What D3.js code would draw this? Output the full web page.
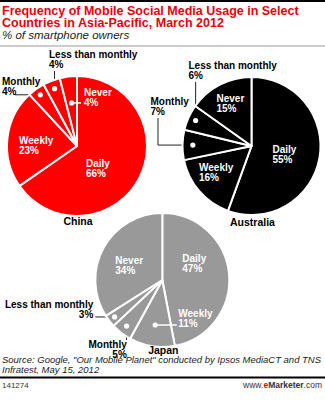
<!DOCTYPE html>
<html>
<head>
<meta charset="utf-8">
<script src="https://cdn.jsdelivr.net/npm/d3@7"></script>
<style>
  body { margin: 0; background: #fff; }
  svg { display: block; font-family: "Liberation Sans", Arial, sans-serif; }
</style>
</head>
<body>
<svg id="chart" width="325" height="401"></svg>
<script>
// data
const categories = ["Daily", "Weekly", "Monthly", "Less than monthly", "Never"];
const countries = ["China", "Australia", "Japan"];
const chinaValues = [66, 23, 4, 4, 4];
const australiaValues = [55, 16, 7, 6, 15];
const japanValues = [47, 11, 5, 3, 34];

// layout of each pie (offsets are relative to the pie centre)
const pies = [
  {
    name: countries[0], values: chinaValues, cx: 77, cy: 146, r: 70, fill: "#ff0000", nameDy: 79,
    labels: [
      { dx: 9, dy: 21 },
      { dx: -58, dy: -2 },
      { dx: -75, dy: -61, dot: 0.9, lead: "h", from: -62 },
      { dx: -28, dy: -88, dot: 0.88, lead: "v", from: -75 },
      { dx: 7, dy: -50, dot: 0.62, lead: "h", from: 4, inside: true }
    ]
  },
  {
    name: countries[1], values: australiaValues, cx: 251.5, cy: 146, r: 69, fill: "#000000", nameDy: 80,
    labels: [
      { dx: 21, dy: 7 },
      { dx: -52.5, dy: 25 },
      { dx: -101, dy: -41, dot: 0.85, lead: "vh", from: [-93.5, -28] },
      { dx: -63, dy: -77, dot: 0.89, lead: "v", from: -64 },
      { dx: -35, dy: -44 }
    ]
  },
  {
    name: countries[2], values: japanValues, cx: 162.3, cy: 280, r: 67, fill: "#999999", nameDy: 73.5,
    labels: [
      { dx: 20, dy: -18 },
      { dx: 16, dy: 37, dot: 0.68, lead: "h", from: 14.5, inside: true },
      { dx: -35.5, dy: 67.5, anchor: "end", dot: 0.87, lead: "v", from: 60 },
      { dx: -69, dy: 28, anchor: "end", dot: 0.9, lead: "h", from: -67 },
      { dx: -47, dy: -16 }
    ]
  }
];

const svg = d3.select("#chart");
const W = 325;

// header
svg.append("rect").attr("x", 0).attr("y", 0).attr("width", W).attr("height", 2).attr("fill", "#000");
svg.append("text").attr("x", 2).attr("y", 15)
  .attr("font-size", 12.5).attr("font-weight", "bold").attr("fill", "#e8000b")
  .text("Frequency of Mobile Social Media Usage in Select");
svg.append("text").attr("x", 2).attr("y", 27)
  .attr("font-size", 12.5).attr("font-weight", "bold").attr("fill", "#e8000b")
  .text("Countries in Asia-Pacific, March 2012");
svg.append("text").attr("x", 2).attr("y", 39)
  .attr("font-size", 11.5).attr("font-style", "italic").attr("fill", "#222")
  .text("% of smartphone owners");
svg.append("rect").attr("x", 0).attr("y", 45.5).attr("width", W).attr("height", 1).attr("fill", "#999");

const pie = d3.pie().sort(null).value(d => d);

pies.forEach(p =>
{
  const g = svg.append("g").attr("transform", `translate(${ p.cx },${ p.cy })`);
  const arcs = pie(p.values);
  const arc = d3.arc().innerRadius(0).outerRadius(p.r);

  // dot positions at a fraction of the radius, on the slice's middle angle
  const dotPos = (a, f) => d3.arc().innerRadius(p.r * f).outerRadius(p.r * f).centroid(a);

  const leadPath = (lab, dot) =>
  {
    if (lab.lead === "h") return `M${ lab.from },${ dot[1] }H${ dot[0] }`;
    if (lab.lead === "v") return `M${ dot[0] },${ lab.from }V${ dot[1] }`;
    return `M${ lab.from[0] },${ lab.from[1] }V${ dot[1] }H${ dot[0] }`;
  };

  // leaders for labels outside the pie go underneath it
  arcs.forEach((a, i) =>
  {
    const lab = p.labels[i];
    if (lab.dot && !lab.inside)
    {
      g.append("path").attr("d", leadPath(lab, dotPos(a, lab.dot)))
        .attr("fill", "none").attr("stroke", "#222").attr("stroke-width", 1);
    }
  });

  g.selectAll("path.slice")
    .data(arcs)
    .enter()
    .append("path")
    .attr("class", "slice")
    .attr("d", arc)
    .attr("fill", p.fill)
    .attr("stroke", "#fff")
    .attr("stroke-width", 2)
    .attr("stroke-linejoin", "round");

  arcs.forEach((a, i) =>
  {
    const lab = p.labels[i];
    if (!lab.dot) return;
    const dot = dotPos(a, lab.dot);
    if (lab.inside)
    {
      g.append("path").attr("d", leadPath(lab, dot))
        .attr("fill", "none").attr("stroke", "#fff").attr("stroke-width", 1.5);
    }
    g.append("circle").attr("cx", dot[0]).attr("cy", dot[1]).attr("r", 2.6).attr("fill", "#fff");
  });

  // slice labels: category name and value on two lines
  arcs.forEach((a, i) =>
  {
    const lab = p.labels[i];
    const color = (lab.dot && !lab.inside) ? "#000" : "#fff";
    const t = g.append("text")
      .attr("font-size", 10)
      .attr("font-weight", "bold")
      .attr("fill", color)
      .attr("text-anchor", lab.anchor || "start");
    t.append("tspan").attr("x", lab.dx).attr("y", lab.dy).text(categories[i]);
    t.append("tspan").attr("x", lab.dx).attr("y", lab.dy + 10).text(p.values[i] + "%");
  });

  g.append("text")
    .attr("x", 1)
    .attr("y", p.nameDy)
    .attr("text-anchor", "middle")
    .attr("font-size", 10.5)
    .attr("font-weight", "bold")
    .text(p.name);
});

// footer
svg.append("text").attr("x", 2).attr("y", 363)
  .attr("font-size", 9.5).attr("font-style", "italic").attr("fill", "#222")
  .attr("textLength", 319).attr("lengthAdjust", "spacingAndGlyphs")
  .text("Source: Google, \"Our Mobile Planet\" conducted by Ipsos MediaCT and TNS");
svg.append("text").attr("x", 2).attr("y", 372.5)
  .attr("font-size", 9.5).attr("font-style", "italic").attr("fill", "#222")
  .text("Infratest, May 15, 2012");
svg.append("rect").attr("x", 0).attr("y", 376.5).attr("width", W).attr("height", 2).attr("fill", "#000");
svg.append("text").attr("x", 2).attr("y", 388)
  .attr("font-size", 8).attr("fill", "#333").text("141274");
const site = svg.append("text").attr("x", 322).attr("y", 388)
  .attr("font-size", 8.5).attr("fill", "#333").attr("text-anchor", "end");
site.append("tspan").text("www.");
site.append("tspan").attr("font-weight", "bold").attr("fill", "#e8000b").text("e");
site.append("tspan").attr("font-weight", "bold").text("Marketer");
site.append("tspan").text(".com");
</script>
</body>
</html>
